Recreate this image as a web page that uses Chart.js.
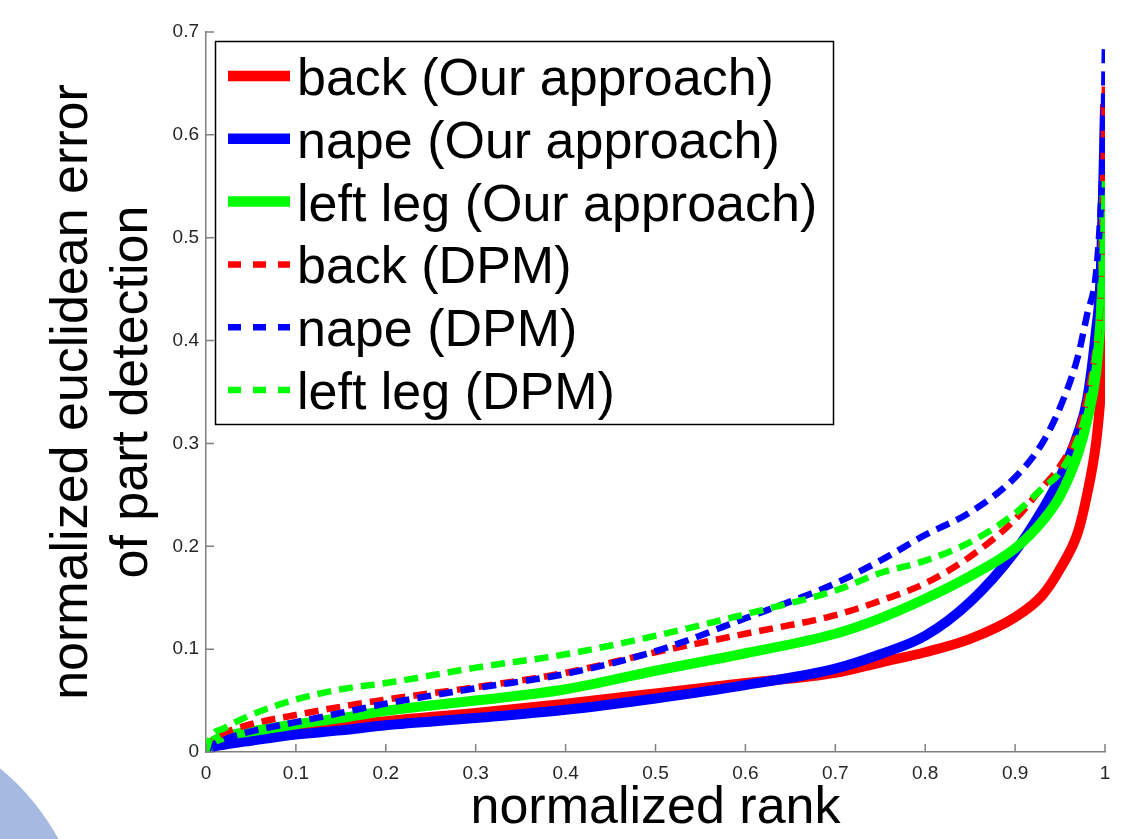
<!DOCTYPE html>
<html>
<head>
<meta charset="utf-8">
<script src="https://cdn.jsdelivr.net/npm/chart.js@4.4.1/dist/chart.umd.min.js"></script>
<style>
  html, body { margin: 0; padding: 0; background: #ffffff; }
  #wrap { width: 1142px; height: 839px; position: relative; }
</style>
</head>
<body>
<div id="wrap"><canvas id="c" width="1142" height="839"></canvas></div>
<script>
// ---- data ----
const ranks = [0, 0.005, 0.02, 0.05, 0.1, 0.15, 0.2, 0.3, 0.4, 0.5, 0.6, 0.7, 0.75, 0.8, 0.85, 0.9, 0.93, 0.95, 0.97, 0.98, 0.99, 0.995, 0.998, 1];
const backOurs   = [0, 0.006, 0.010, 0.014, 0.020, 0.025, 0.030, 0.038, 0.047, 0.057, 0.067, 0.077, 0.087, 0.097, 0.110, 0.131, 0.152, 0.178, 0.214, 0.250, 0.300, 0.345, 0.400, 0.630];
const napeOurs   = [0, 0.004, 0.007, 0.011, 0.017, 0.021, 0.026, 0.033, 0.041, 0.052, 0.065, 0.081, 0.095, 0.113, 0.146, 0.195, 0.235, 0.267, 0.310, 0.342, 0.410, 0.460, 0.550, 0.625];
const legOurs    = [0, 0.008, 0.015, 0.020, 0.027, 0.033, 0.040, 0.050, 0.061, 0.079, 0.096, 0.115, 0.130, 0.149, 0.171, 0.198, 0.224, 0.249, 0.290, 0.322, 0.368, 0.420, 0.480, 0.560];
const backDPM    = [0, 0.008, 0.018, 0.027, 0.036, 0.044, 0.051, 0.063, 0.077, 0.097, 0.115, 0.133, 0.147, 0.164, 0.190, 0.226, 0.257, 0.278, 0.312, 0.345, 0.395, 0.440, 0.550, 0.655];
const napeDPM    = [0, 0.005, 0.012, 0.020, 0.029, 0.038, 0.047, 0.062, 0.076, 0.098, 0.130, 0.164, 0.186, 0.211, 0.233, 0.267, 0.300, 0.335, 0.385, 0.425, 0.465, 0.525, 0.590, 0.690];
const legDPM     = [0, 0.014, 0.023, 0.036, 0.051, 0.061, 0.067, 0.082, 0.095, 0.113, 0.134, 0.157, 0.174, 0.186, 0.204, 0.232, 0.256, 0.272, 0.305, 0.335, 0.390, 0.440, 0.500, 0.555];
const seriesLabels = ['back (Our approach)', 'nape (Our approach)', 'left leg (Our approach)', 'back (DPM)', 'nape (DPM)', 'left leg (DPM)'];
const seriesValues = [backOurs, napeOurs, legOurs, backDPM, napeDPM, legDPM];
const seriesColors = ['#ff0000', '#0000ff', '#00ff00', '#ff0000', '#0000ff', '#00ff00'];
const seriesDashed = [false, false, false, true, true, true];
const yTicks = [0, 0.1, 0.2, 0.3, 0.4, 0.5, 0.6, 0.7];
const xTicks = [0, 0.1, 0.2, 0.3, 0.4, 0.5, 0.6, 0.7, 0.8, 0.9, 1];

const FONT = "'Liberation Sans', Arial, Helvetica, sans-serif";

function fmt(v) {
  const r = Math.round(v * 10) / 10;
  if (r === 0) return '0';
  if (r === 1) return '1';
  return r.toFixed(1);
}

const datasets = seriesValues.map((vals, i) => ({
  label: seriesLabels[i],
  data: ranks.map((r, k) => ({ x: r, y: vals[k] })),
  borderColor: seriesColors[i],
  backgroundColor: seriesColors[i],
  borderWidth: seriesDashed[i] ? 6.5 : 10,
  borderDash: seriesDashed[i] ? [14, 8] : [],
  borderCapStyle: 'butt',
  borderJoinStyle: 'round',
  pointRadius: 0,
  pointHoverRadius: 0,
  cubicInterpolationMode: 'monotone',
  fill: false,
  order: seriesValues.length - i
}));

// decoration: light-blue disc at lower-left corner
const cornerDecor = {
  id: 'cornerDecor',
  beforeDraw(chart) {
    const ctx = chart.ctx;
    ctx.save();
    ctx.fillStyle = '#a6b9e1';
    ctx.beginPath();
    ctx.arc(-158, 958, 247, 0, Math.PI * 2);
    ctx.fill();
    ctx.restore();
  }
};

// inward tick marks drawn from the library's scales
const inwardTicks = {
  id: 'inwardTicks',
  afterDraw(chart) {
    const ctx = chart.ctx;
    const xs = chart.scales.x, ys = chart.scales.y;
    const area = chart.chartArea;
    ctx.save();
    ctx.strokeStyle = '#808080';
    ctx.lineWidth = 1.5;
    ctx.beginPath();
    xTicks.forEach(v => {
      const px = xs.getPixelForValue(v);
      ctx.moveTo(px, area.bottom);
      ctx.lineTo(px, area.bottom - 8);
    });
    yTicks.forEach(v => {
      const py = ys.getPixelForValue(v);
      ctx.moveTo(area.left, py);
      ctx.lineTo(area.left + 8, py);
    });
    ctx.stroke();
    ctx.restore();
  }
};

// boxed legend inside the plot (MATLAB style)
const boxLegend = {
  id: 'boxLegend',
  afterDraw(chart) {
    const ctx = chart.ctx;
    const bx = 215.5, by = 41.5, bw = 618, bh = 383;
    ctx.save();
    ctx.fillStyle = '#ffffff';
    ctx.fillRect(bx, by, bw, bh);
    ctx.strokeStyle = '#000000';
    ctx.lineWidth = 1.5;
    ctx.strokeRect(bx, by, bw, bh);
    const rowY0 = 76, rowStep = 62.8;
    chart.data.datasets.forEach((ds, i) => {
      const cy = rowY0 + i * rowStep;
      ctx.beginPath();
      ctx.strokeStyle = ds.borderColor;
      ctx.lineCap = 'butt';
      if (seriesDashed[i]) {
        ctx.lineWidth = 6.5;
        ctx.setLineDash([13, 12]);
      } else {
        ctx.lineWidth = 10.5;
        ctx.setLineDash([]);
      }
      ctx.moveTo(228, cy);
      ctx.lineTo(290, cy);
      ctx.stroke();
      ctx.setLineDash([]);
      ctx.fillStyle = '#000000';
      ctx.font = '52px ' + FONT;
      ctx.textAlign = 'left';
      ctx.textBaseline = 'alphabetic';
      ctx.fillText(ds.label, 297, cy + 19);
    });
    ctx.restore();
  }
};

new Chart(document.getElementById('c'), {
  type: 'line',
  data: { datasets },
  options: {
    responsive: false,
    animation: false,
    events: [],
    layout: { padding: { left: 0, top: 32, right: 37, bottom: 0 } },
    plugins: {
      legend: { display: false },
      tooltip: { enabled: false },
      title: { display: false }
    },
    scales: {
      x: {
        type: 'linear',
        min: 0, max: 1,
        afterFit(scale) { scale.height = 87; },
        afterBuildTicks(scale) { scale.ticks = xTicks.map(v => ({ value: v })); },
        grid: { display: true, drawOnChartArea: false, drawTicks: false },
        border: { display: true, color: '#808080', width: 1.5 },
        ticks: {
          padding: 10,
          color: '#262626',
          font: { family: FONT, size: 19 },
          maxRotation: 0,
          autoSkip: false,
          callback: v => fmt(v)
        },
        title: {
          display: true,
          text: 'normalized rank',
          color: '#000000',
          font: { family: FONT, size: 52, lineHeight: 1.1 },
          padding: { top: 0, bottom: 2 }
        }
      },
      y: {
        type: 'linear',
        min: 0, max: 0.7,
        afterFit(scale) { scale.width = 206; },
        afterBuildTicks(scale) { scale.ticks = yTicks.map(v => ({ value: v })); },
        grid: { display: true, drawOnChartArea: false, drawTicks: false },
        border: { display: true, color: '#808080', width: 1.5 },
        ticks: {
          padding: 7,
          color: '#262626',
          font: { family: FONT, size: 19 },
          autoSkip: false,
          callback: v => fmt(v)
        },
        title: {
          display: true,
          text: ['normalized euclidean error', 'of part detection'],
          color: '#000000',
          font: { family: FONT, size: 52, lineHeight: 1.154 },
          padding: { top: 43, bottom: 0 }
        }
      }
    }
  },
  plugins: [cornerDecor, inwardTicks, boxLegend]
});
</script>
</body>
</html>
